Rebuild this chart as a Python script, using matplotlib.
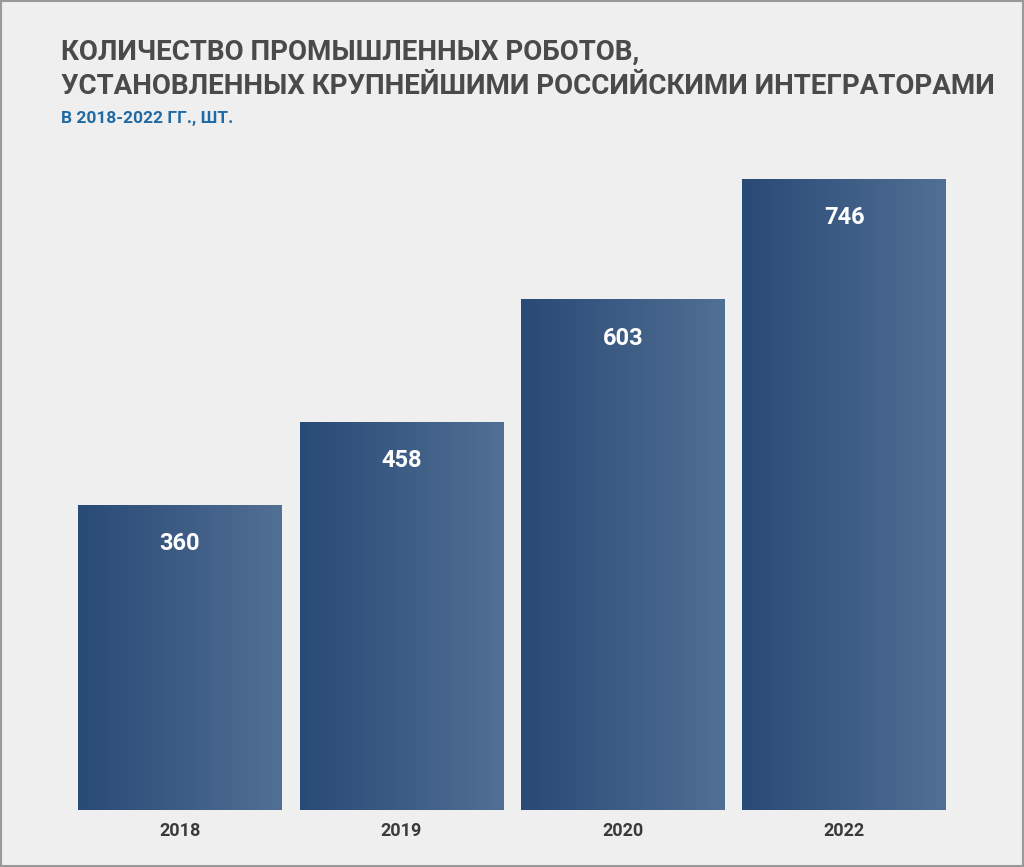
import matplotlib
matplotlib.use("Agg")
import matplotlib.pyplot as plt
import numpy as np
from matplotlib.patches import Rectangle

years = ["2018", "2019", "2020", "2022"]
values = [360, 458, 603, 746]

plt.rcParams["font.family"] = "Roboto"
fig = plt.figure(figsize=(10.24, 8.67), dpi=100, facecolor="#efefef")
fig.patches.append(Rectangle((0.001, 0.001), 0.998, 0.998, transform=fig.transFigure,
                             fill=False, edgecolor="#9a9a9a", linewidth=1.5))
ax = fig.add_axes([78/1024, 1-810/867, 868/1024, 631/867])
ax.set_facecolor("#efefef")
w = 203.5/221.5
ax.set_xlim(-w/2, 3 + w/2)
ax.set_ylim(0, 746)
grad = np.linspace(0, 1, 256).reshape(1, -1)
from matplotlib.colors import LinearSegmentedColormap
cmap = LinearSegmentedColormap.from_list("g", ["#284a76", "#526f94"])
for i, v in enumerate(values):
    ax.imshow(grad, extent=(i - w/2, i + w/2, 0, v), aspect="auto", cmap=cmap, zorder=2)
    ax.text(i, v - 45, str(v), ha="center", va="center", color="white",
            fontsize=17, fontweight="bold", zorder=3)
ax.set_xlim(-w/2, 3 + w/2)
ax.set_ylim(0, 746)
ax.set_xticks(range(len(years)))
ax.set_xticklabels(years, fontsize=13, fontweight="bold", color="#3a3a3a")
ax.tick_params(axis="x", length=0, pad=9)
ax.set_yticks([])
for s in ax.spines.values():
    s.set_visible(False)

fig.text(61/1024, 1-52/867, "КОЛИЧЕСТВО ПРОМЫШЛЕННЫХ РОБОТОВ,", fontsize=20, fontweight="bold",
         color="#4a4a4a", va="center")
fig.text(61/1024, 1-86/867, "УСТАНОВЛЕННЫХ КРУПНЕЙШИМИ РОССИЙСКИМИ ИНТЕГРАТОРАМИ", fontsize=20,
         fontweight="bold", color="#4a4a4a", va="center")
fig.text(61/1024, 1-118/867, "В 2018-2022 ГГ., ШТ.", fontsize=12.5, fontweight="bold",
         color="#1f6aa5", va="center")
fig.savefig("out.png", dpi=100, facecolor=fig.get_facecolor())
